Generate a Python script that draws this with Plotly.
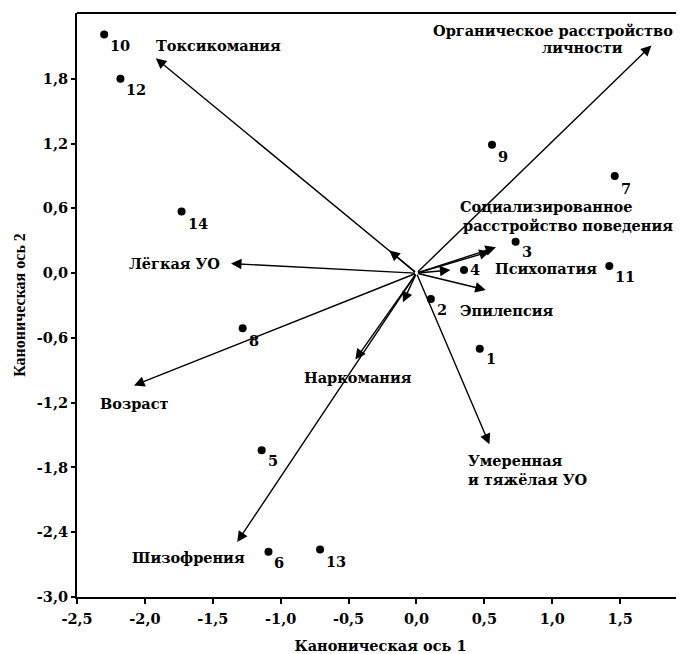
import plotly.graph_objects as go

# Objects (canonical scores)
pt_labels = ["1", "2", "3", "4", "5", "6", "7", "8", "9", "10", "11", "12", "13", "14"]
pt_x = [0.466, 0.106, 0.73, 0.35, -1.14, -1.09, 1.46, -1.28, 0.556, -2.30, 1.42, -2.18, -0.71, -1.73]
pt_y = [-0.70, -0.24, 0.29, 0.03, -1.64, -2.58, 0.90, -0.51, 1.19, 2.21, 0.066, 1.80, -2.56, 0.57]
pt_label_dy = [-10, -10, -10, 0, -10, -11, -12, -12, -12, -11, -10, -11, -12, -12]

# Variable vectors (arrow tips)
vec_names = ["Токсикомания", "Органическое расстройство личности", "Лёгкая УО", "Возраст",
             "Шизофрения", "Умеренная и тяжёлая УО", "Эпилепсия",
             "Социализированное расстройство поведения", "Психопатия", "Психопатия (2)",
             "Наркомания", "Наркомания (2)", "Токсикомания (2)"]
vec_x = [-1.92, 1.73, -1.366, -2.08, -1.32, 0.537, 0.51, 0.585, 0.54, 0.25, -0.45, -0.10, -0.20]
vec_y = [1.99, 2.11, 0.089, -1.04, -2.49, -1.585, -0.155, 0.24, 0.20, 0.03, -0.80, -0.27, 0.21]

# Text labels for vectors
lab_text = ["Токсикомания", "Органическое расстройство", "личности", "Социализированное",
            "расстройство поведения", "Психопатия", "Эпилепсия", "Наркомания", "Возраст",
            "Умеренная<br>и тяжёлая УО", "Лёгкая УО", "Шизофрения"]
lab_x = [-1.46, 1.006, 1.22, 0.305, 0.331, 0.562, 0.305, -0.434, -2.076, 0.363, -1.78, -1.68]
lab_y = [2.11, 2.25, 2.09, 0.62, 0.445, 0.04, -0.35, -0.97, -1.21, -1.825, 0.085, -2.63]
lab_anchor = ["center", "center", "center", "left", "left", "left", "left", "center", "center",
              "left", "center", "center"]

x_ticks = [-2.5, -2.0, -1.5, -1.0, -0.5, 0.0, 0.5, 1.0, 1.5]
y_ticks = [-3.0, -2.4, -1.8, -1.2, -0.6, 0.0, 0.6, 1.2, 1.8]


def fmt(v):
    return f"{v:.1f}".replace(".", ",")


SERIF = "DejaVu Serif"
FS = 14.5
tfont = dict(family=SERIF, size=FS, color="black", weight="bold")

fig = go.Figure()
fig.add_trace(go.Scatter(x=pt_x, y=pt_y, mode="markers",
                         marker=dict(color="black", size=8), hoverinfo="skip", showlegend=False))

ann = []
for vx, vy in zip(vec_x, vec_y):
    ann.append(dict(x=vx, y=vy, ax=0, ay=0, xref="x", yref="y", axref="x", ayref="y",
                    showarrow=True, arrowhead=2, arrowsize=1.5, arrowwidth=1.4,
                    arrowcolor="black", standoff=0, text=""))
for t, x, y, dy in zip(pt_labels, pt_x, pt_y, pt_label_dy):
    ann.append(dict(x=x, y=y, xref="x", yref="y", text=t, showarrow=False,
                    xanchor="left", yanchor="middle", xshift=4, yshift=dy, font=tfont))
for t, x, y, a in zip(lab_text, lab_x, lab_y, lab_anchor):
    ann.append(dict(x=x, y=y, xref="x", yref="y", text=t, showarrow=False,
                    xanchor=a, yanchor="middle", align=a, font=tfont))

# The page body has an 8px margin, so the figure is sized to fill the rest of the window.
fig.update_layout(
    width=676, height=646,
    margin=dict(l=69, r=0, t=5, b=57),
    paper_bgcolor="white", plot_bgcolor="white",
    annotations=ann,
    shapes=[dict(type="line", xref="paper", yref="paper", x0=0, x1=1, y0=1, y1=1,
                 line=dict(color="black", width=2))],
    xaxis=dict(range=[-2.5, 1.97], tickvals=x_ticks, ticktext=[fmt(v) for v in x_ticks],
               automargin=False, ticklabelstandoff=3,
               showgrid=False, zeroline=False, showline=True, linecolor="black", linewidth=2,
               ticks="outside", ticklen=5, tickwidth=1.5, tickcolor="black",
               tickfont=tfont,
               title=dict(text="Каноническая ось 1", standoff=16, font=tfont)),
    yaxis=dict(range=[-3.0, 2.41], tickvals=y_ticks, ticktext=[fmt(v) for v in y_ticks],
               automargin=False,
               showgrid=False, zeroline=False, showline=True, linecolor="black", linewidth=2,
               ticks="outside", ticklen=4, tickwidth=1.5, tickcolor="black",
               tickfont=tfont,
               title=dict(text="Каноническая ось 2", standoff=7,
                          font=dict(family="Liberation Sans Narrow", size=16,
                                    color="black", weight="bold"))),
)

fig.write_html("out.html")
